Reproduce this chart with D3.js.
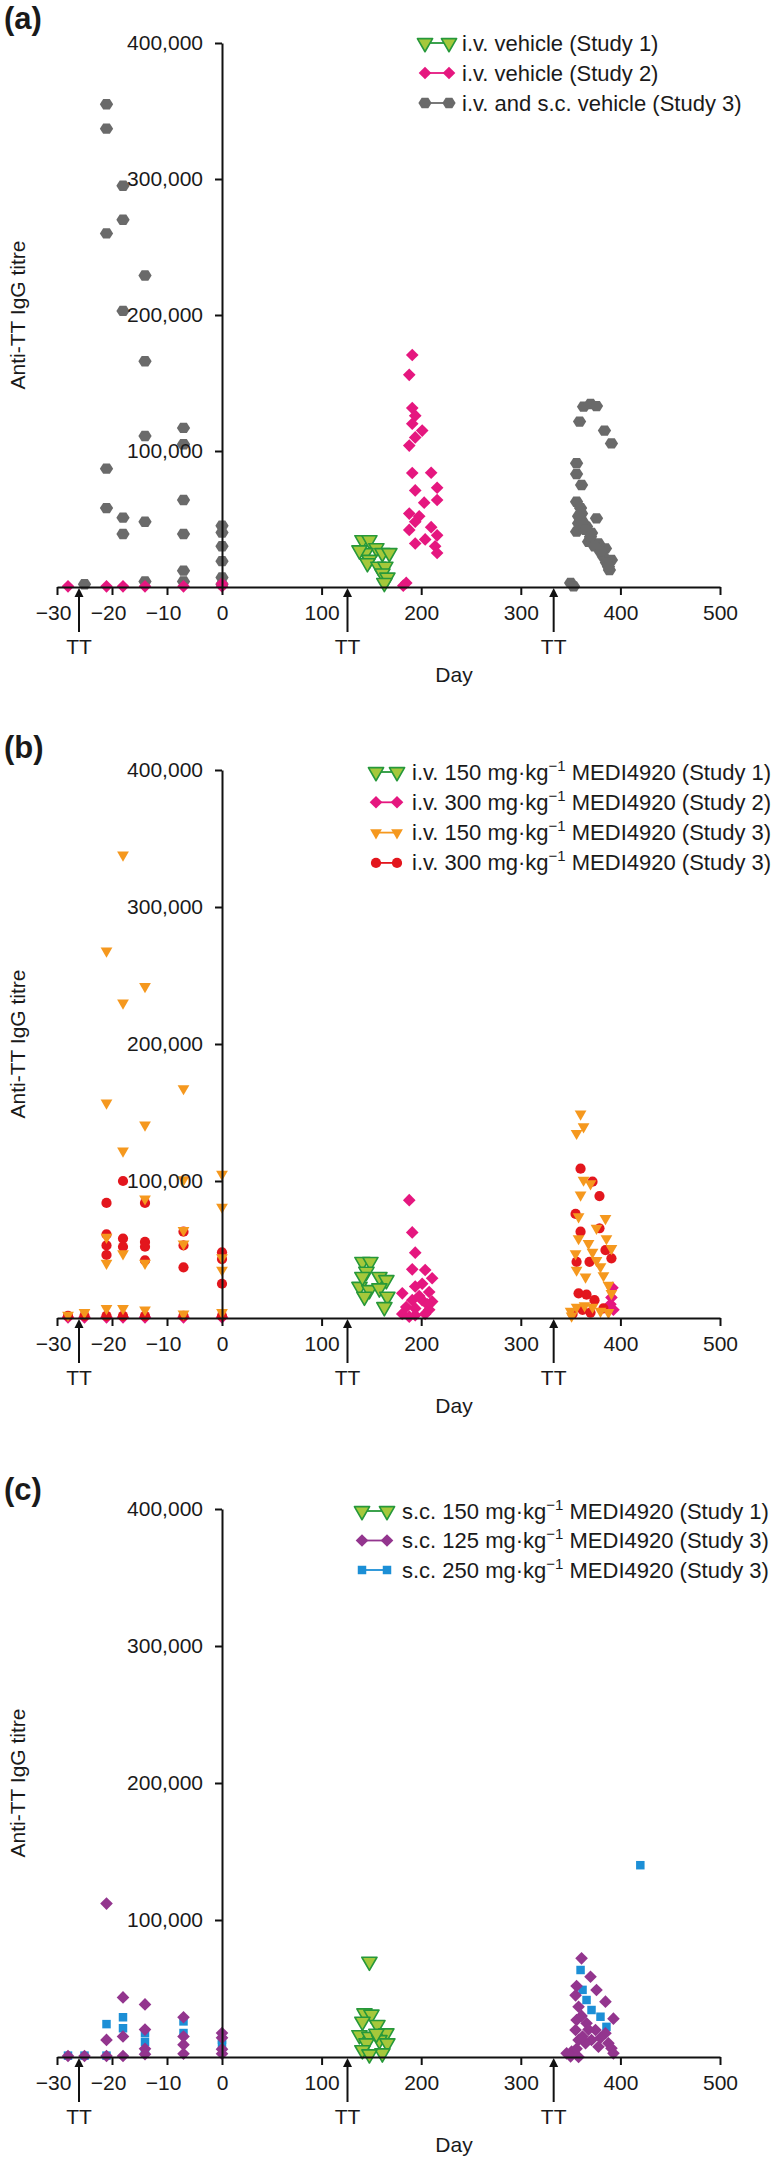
<!DOCTYPE html>
<html><head><meta charset="utf-8">
<script src="https://cdn.jsdelivr.net/npm/d3@7"></script>
<style>
body{margin:0;background:#fff}
text{font-family:"Liberation Sans",Arial,Helvetica,sans-serif;fill:#1a1a1a}
</style>
</head><body>
<svg id="chart" width="777" height="2162"></svg>
<script>
// ---------- tick labels / categories ----------
const xTickValues = [-30, -20, -10, 0, 100, 200, 300, 400, 500];
const yTickValues = [100000, 200000, 300000, 400000];
const ttDays = [-26, 126, 333];
const panelLabels = ["(a)", "(b)", "(c)"];
const yAxisTitle = "Anti-TT IgG titre";
const xAxisTitle = "Day";

// ---------- Panel (a) ----------
const a_ivVehicleS1 = [[141,34500],[148,34500],[155,28600],[144,25000],[161,25000],[168,25000],[138,27000],[148,20000],[146,17600],[157,15000],[164,15000],[161,10000],[166,7000],[163,3000]];
const a_ivVehicleS2 = [[-28,500],[-21,500],[-18,500],[-14,500],[-7,500],[0,500],[0,2500],
  [191,170600],[188,156000],[191,131600],[194,126000],[191,120000],[201,115000],[194,110000],[188,104000],[191,83800],[210,84000],[216,73000],[194,71000],[203,62000],[216,64000],[188,54000],[198,52000],[194,48000],[188,42000],[210,44000],[216,38000],[194,32000],[204,35000],[214,30000],[216,25000],[185,3000],[182,1000]];
const a_ivScVehicleS3 = [[-25,2000],[-21,355000],[-21,337000],[-21,260000],[-21,87000],[-21,58000],[-18,295000],[-18,270000],[-18,203000],[-18,51000],[-18,39000],[-14,229000],[-14,166000],[-14,111000],[-14,48000],[-14,4000],[-7,117000],[-7,105000],[-7,64000],[-7,39000],[-7,12000],[-7,4000],[0,45000],[0,40000],[0,30000],[0,19000],[0,7000],[0,2000],
  [363,132600],[370,134600],[376,133000],[359,121600],[384,115000],[391,105600],[356,91000],[356,83000],[361,75000],[356,62700],[361,54000],[376,50500],[358,46800],[366,44400],[356,40700],[371,39700],[368,33300],[378,32000],[385,28400],[383,22300],[391,19900],[389,12500],[350,3000],[353,500],[362,48000],[365,42000],[370,37000],[374,30000],[380,26000],[386,18000],[388,15000],[360,58000],[358,52000]];

// ---------- Panel (b) ----------
const b_iv150S1 = [[141,41000],[149,41000],[145,33800],[158,30000],[165,27700],[138,22800],[148,20400],[158,21700],[166,15600],[163,8000],[143,15600],[141,30000]];
const b_iv300S2 = [[-28,500],[-25,500],[-21,500],[-18,500],[-14,500],[-7,500],[0,500],
  [188,86000],[191,62500],[194,47700],[191,35500],[204,35000],[211,29000],[201,25000],[194,23000],[181,18000],[208,19000],[191,13000],[201,13000],[211,12000],[185,8000],[194,7000],[208,6000],[181,3000],[194,2000],[204,3000],[188,1000],[198,16000],[206,10000],
  [392,22000],[391,15000],[390,10000],[393,6000]];
const b_iv150S3 = [[-18,338000],[-21,268000],[-18,230000],[-14,242000],[-21,157000],[-14,141000],[-7,167500],[-18,122000],[-7,101000],[0,105000],[0,81000],[-14,87000],[-7,64000],[-7,54000],[-21,59000],[-18,47000],[-21,40000],[-14,40000],[0,44000],[0,35000],[-21,7000],[-18,7000],[-14,6000],[-7,3000],[0,4000],[-28,2000],[-25,4000],
  [360,149000],[363,139600],[356,134800],[363,100700],[360,89800],[370,98000],[358,74000],[385,72700],[376,65500],[358,58000],[386,58000],[368,54500],[391,50800],[355,47000],[376,42000],[380,37500],[356,35000],[383,31000],[388,24000],[391,18000],[350,5000],[356,8000],[364,9000],[372,8000],[380,5000],[388,4000],[351,1500],[372,48000],[365,30000]];
const b_iv300S3 = [[-18,100000],[-21,84000],[-14,84000],[-21,61000],[-21,53000],[-21,46000],[-18,58000],[-18,52000],[-14,55500],[-14,52000],[-14,42000],[-7,63000],[-7,53000],[-7,37000],[0,48000],[0,43000],[0,25000],[-28,1500],[-25,1500],[-21,1500],[-18,1500],[-14,1500],[-7,1500],[0,1500],
  [360,109000],[372,99500],[379,89000],[355,76000],[360,63000],[379,65500],[385,49600],[391,43600],[356,41000],[369,41000],[358,18000],[366,17000],[374,13000],[352,3000],[362,6000],[370,4000],[383,7000]];

// ---------- Panel (c) ----------
const c_sc150S1 = [[148,69600],[143,31900],[150,31000],[141,25800],[156,23400],[165,17300],[138,16000],[148,14800],[158,12400],[145,10000],[166,10000],[141,5000],[161,2700],[148,2000],[155,17000]];
const c_sc125S3 = [[-21,112000],[-18,43500],[-14,38400],[-7,29000],[-14,20000],[-18,15000],[-21,12500],[-7,15000],[0,17500],[0,14000],[-7,9000],[-14,6000],[-14,2000],[-7,2400],[0,5700],[0,2400],[-21,700],[-18,700],[-28,700],[-25,700],
  [361,72000],[370,58600],[356,51800],[376,48900],[385,40400],[355,45000],[358,36700],[393,28000],[356,27000],[366,24600],[355,19700],[375,19700],[385,17300],[358,12400],[371,12400],[388,10000],[365,10000],[378,7500],[391,6300],[351,3900],[346,2700],[358,0],[350,500],[393,2700],[356,6000],[362,15000],[368,20000],[380,14000],[361,30000]];
const c_sc250S3 = [[-21,24000],[-18,29000],[-18,21000],[-14,17500],[-14,11000],[-14,4000],[-7,26000],[-7,17500],[0,9000],[0,12500],[-28,1000],[-25,1000],[-21,1000],
  [360,63500],[366,41600],[371,34300],[380,29400],[386,22000],[362,49000],[420,140000]];

// ---------- legend texts ----------
const legendA = [["i.v. vehicle (Study 1)"],["i.v. vehicle (Study 2)"],["i.v. and s.c. vehicle (Study 3)"]];
const legendB = [["i.v. 150 mg·kg","−1"," MEDI4920 (Study 1)"],["i.v. 300 mg·kg","−1"," MEDI4920 (Study 2)"],["i.v. 150 mg·kg","−1"," MEDI4920 (Study 3)"],["i.v. 300 mg·kg","−1"," MEDI4920 (Study 3)"]];
const legendC = [["s.c. 150 mg·kg","−1"," MEDI4920 (Study 1)"],["s.c. 125 mg·kg","−1"," MEDI4920 (Study 3)"],["s.c. 250 mg·kg","−1"," MEDI4920 (Study 3)"]];

// ---------- styling ----------
const symbolHex = {
  draw(ctx, size) {
    const r = Math.sqrt(size / (1.5 * Math.sqrt(3)));
    for (let i = 0; i < 6; i++) {
      const a = i * Math.PI / 3;
      const px = r * Math.cos(a), py = r * Math.sin(a) * 0.9;
      if (i === 0) ctx.moveTo(px, py); else ctx.lineTo(px, py);
    }
    ctx.closePath();
  }
};
const STY = {
  greenTri: {type: d3.symbolTriangle, size: 100, rot: 180, fill: "#a5c83b", stroke: "#26983a", sw: 1.6, line: "#26983a"},
  pinkDia:  {type: d3.symbolSquare, size: 80, rot: 45, fill: "#e5177f", stroke: "none", sw: 0, line: "#e5177f"},
  grayHex:  {type: symbolHex, size: 115, rot: 0, fill: "#6a6a6a", stroke: "none", sw: 0, line: "#6a6a6a"},
  orangeTri:{type: d3.symbolTriangle, size: 60, rot: 180, fill: "#f5981e", stroke: "none", sw: 0, line: "#f5981e"},
  redCirc:  {type: d3.symbolCircle, size: 82, rot: 0, fill: "#e3161d", stroke: "none", sw: 0, line: "#e3161d"},
  purpleDia:{type: d3.symbolSquare, size: 80, rot: 45, fill: "#93358e", stroke: "none", sw: 0, line: "#93358e"},
  blueSq:   {type: d3.symbolSquare, size: 72, rot: 0, fill: "#1c8fd6", stroke: "none", sw: 0, line: "#1c8fd6"}
};

const panels = [
  {label: panelLabels[0], labelY: 29, top: 43, bottom: 587,
   draw: [[a_ivScVehicleS3, STY.grayHex],[a_ivVehicleS1, STY.greenTri],[a_ivVehicleS2, STY.pinkDia]],
   legend: {m0: 425, m1: 449, tx: 462, y0: 43, dy: 30, items: [[STY.greenTri, legendA[0]],[STY.pinkDia, legendA[1]],[STY.grayHex, legendA[2]]]}},
  {label: panelLabels[1], labelY: 758, top: 770, bottom: 1318,
   draw: [[b_iv300S2, STY.pinkDia],[b_iv300S3, STY.redCirc],[b_iv150S3, STY.orangeTri],[b_iv150S1, STY.greenTri]],
   legend: {m0: 376, m1: 397, tx: 412, y0: 772, dy: 30.3, items: [[STY.greenTri, legendB[0]],[STY.pinkDia, legendB[1]],[STY.orangeTri, legendB[2]],[STY.redCirc, legendB[3]]]}},
  {label: panelLabels[2], labelY: 1500, top: 1509, bottom: 2057,
   draw: [[c_sc150S1, STY.greenTri],[c_sc250S3, STY.blueSq],[c_sc125S3, STY.purpleDia]],
   legend: {m0: 362, m1: 387, tx: 402, y0: 1511, dy: 29.5, items: [[STY.greenTri, legendC[0]],[STY.purpleDia, legendC[1]],[STY.blueSq, legendC[2]]]}}
];

const svg = d3.select("#chart");
svg.append("rect").attr("width", 777).attr("height", 2162).attr("fill", "#fff");
const x = d3.scaleLinear().domain([-30, 0, 500]).range([57, 222, 720]);

function marker(g, sty, cx, cy) {
  g.append("path")
    .attr("d", d3.symbol().type(sty.type).size(sty.size)())
    .attr("transform", `translate(${cx},${cy}) rotate(${sty.rot})`)
    .attr("fill", sty.fill)
    .attr("stroke", sty.stroke)
    .attr("stroke-width", sty.sw)
    .attr("stroke-linejoin", "round");
}

panels.forEach(p => {
  const y = d3.scaleLinear().domain([0, 400000]).range([p.bottom, p.top]);
  const g = svg.append("g");

  g.append("text").attr("x", 4).attr("y", p.labelY)
    .attr("font-size", 31).attr("font-weight", "bold").text(p.label);

  p.draw.forEach(([data, sty]) => {
    const sg = g.append("g");
    data.forEach(d => marker(sg, sty, x(d[0]), y(d[1])));
  });

  const xa = g.append("g").attr("transform", `translate(0,${p.bottom})`)
    .call(d3.axisBottom(x).tickValues(xTickValues).tickSize(8).tickPadding(10).tickSizeOuter(0).tickFormat(d3.format("d")));
  const ya = g.append("g").attr("transform", `translate(${x(0)},0)`)
    .call(d3.axisLeft(y).tickValues(yTickValues).tickSize(7).tickPadding(12).tickSizeOuter(0).tickFormat(d3.format(",")));
  [xa, ya].forEach(a => {
    a.select(".domain").attr("stroke", "#111").attr("stroke-width", 2);
    a.selectAll(".tick line").attr("stroke", "#111").attr("stroke-width", 2);
    a.selectAll(".tick text").attr("font-size", 21).attr("fill", "#1a1a1a")
      .style("font-family", '"Liberation Sans",Arial,sans-serif');
  });
  xa.selectAll(".tick text").attr("dx", d => d < 0 ? -4 : 0);

  ttDays.forEach(d => {
    const ax = x(d);
    g.append("line").attr("x1", ax).attr("x2", ax).attr("y1", p.bottom + 6).attr("y2", p.bottom + 45)
      .attr("stroke", "#111").attr("stroke-width", 2);
    g.append("path").attr("d", d3.line()([[ax, p.bottom + 1], [ax - 4.5, p.bottom + 10], [ax + 4.5, p.bottom + 10]]) + "Z")
      .attr("fill", "#111");
    g.append("text").attr("x", ax).attr("y", p.bottom + 67).attr("text-anchor", "middle")
      .attr("font-size", 21).text("TT");
  });

  g.append("text").attr("x", 454).attr("y", p.bottom + 95).attr("text-anchor", "middle")
    .attr("font-size", 21).text(xAxisTitle);
  g.append("text").attr("transform", `translate(25,${(p.top + p.bottom) / 2}) rotate(-90)`)
    .attr("text-anchor", "middle").attr("font-size", 21).text(yAxisTitle);

  const L = p.legend;
  L.items.forEach(([sty, parts], i) => {
    const ly = L.y0 + i * L.dy;
    g.append("line").attr("x1", L.m0).attr("x2", L.m1).attr("y1", ly).attr("y2", ly)
      .attr("stroke", sty.line).attr("stroke-width", 1.8);
    marker(g, sty, L.m0, ly);
    marker(g, sty, L.m1, ly);
    const t = g.append("text").attr("x", L.tx).attr("y", ly + 7.5).attr("font-size", 22);
    t.append("tspan").text(parts[0]);
    if (parts.length > 1) {
      t.append("tspan").attr("font-size", 15).attr("dy", -9).text(parts[1]);
      t.append("tspan").attr("dy", 9).text(parts[2]);
    }
  });
});
</script>
</body></html>
